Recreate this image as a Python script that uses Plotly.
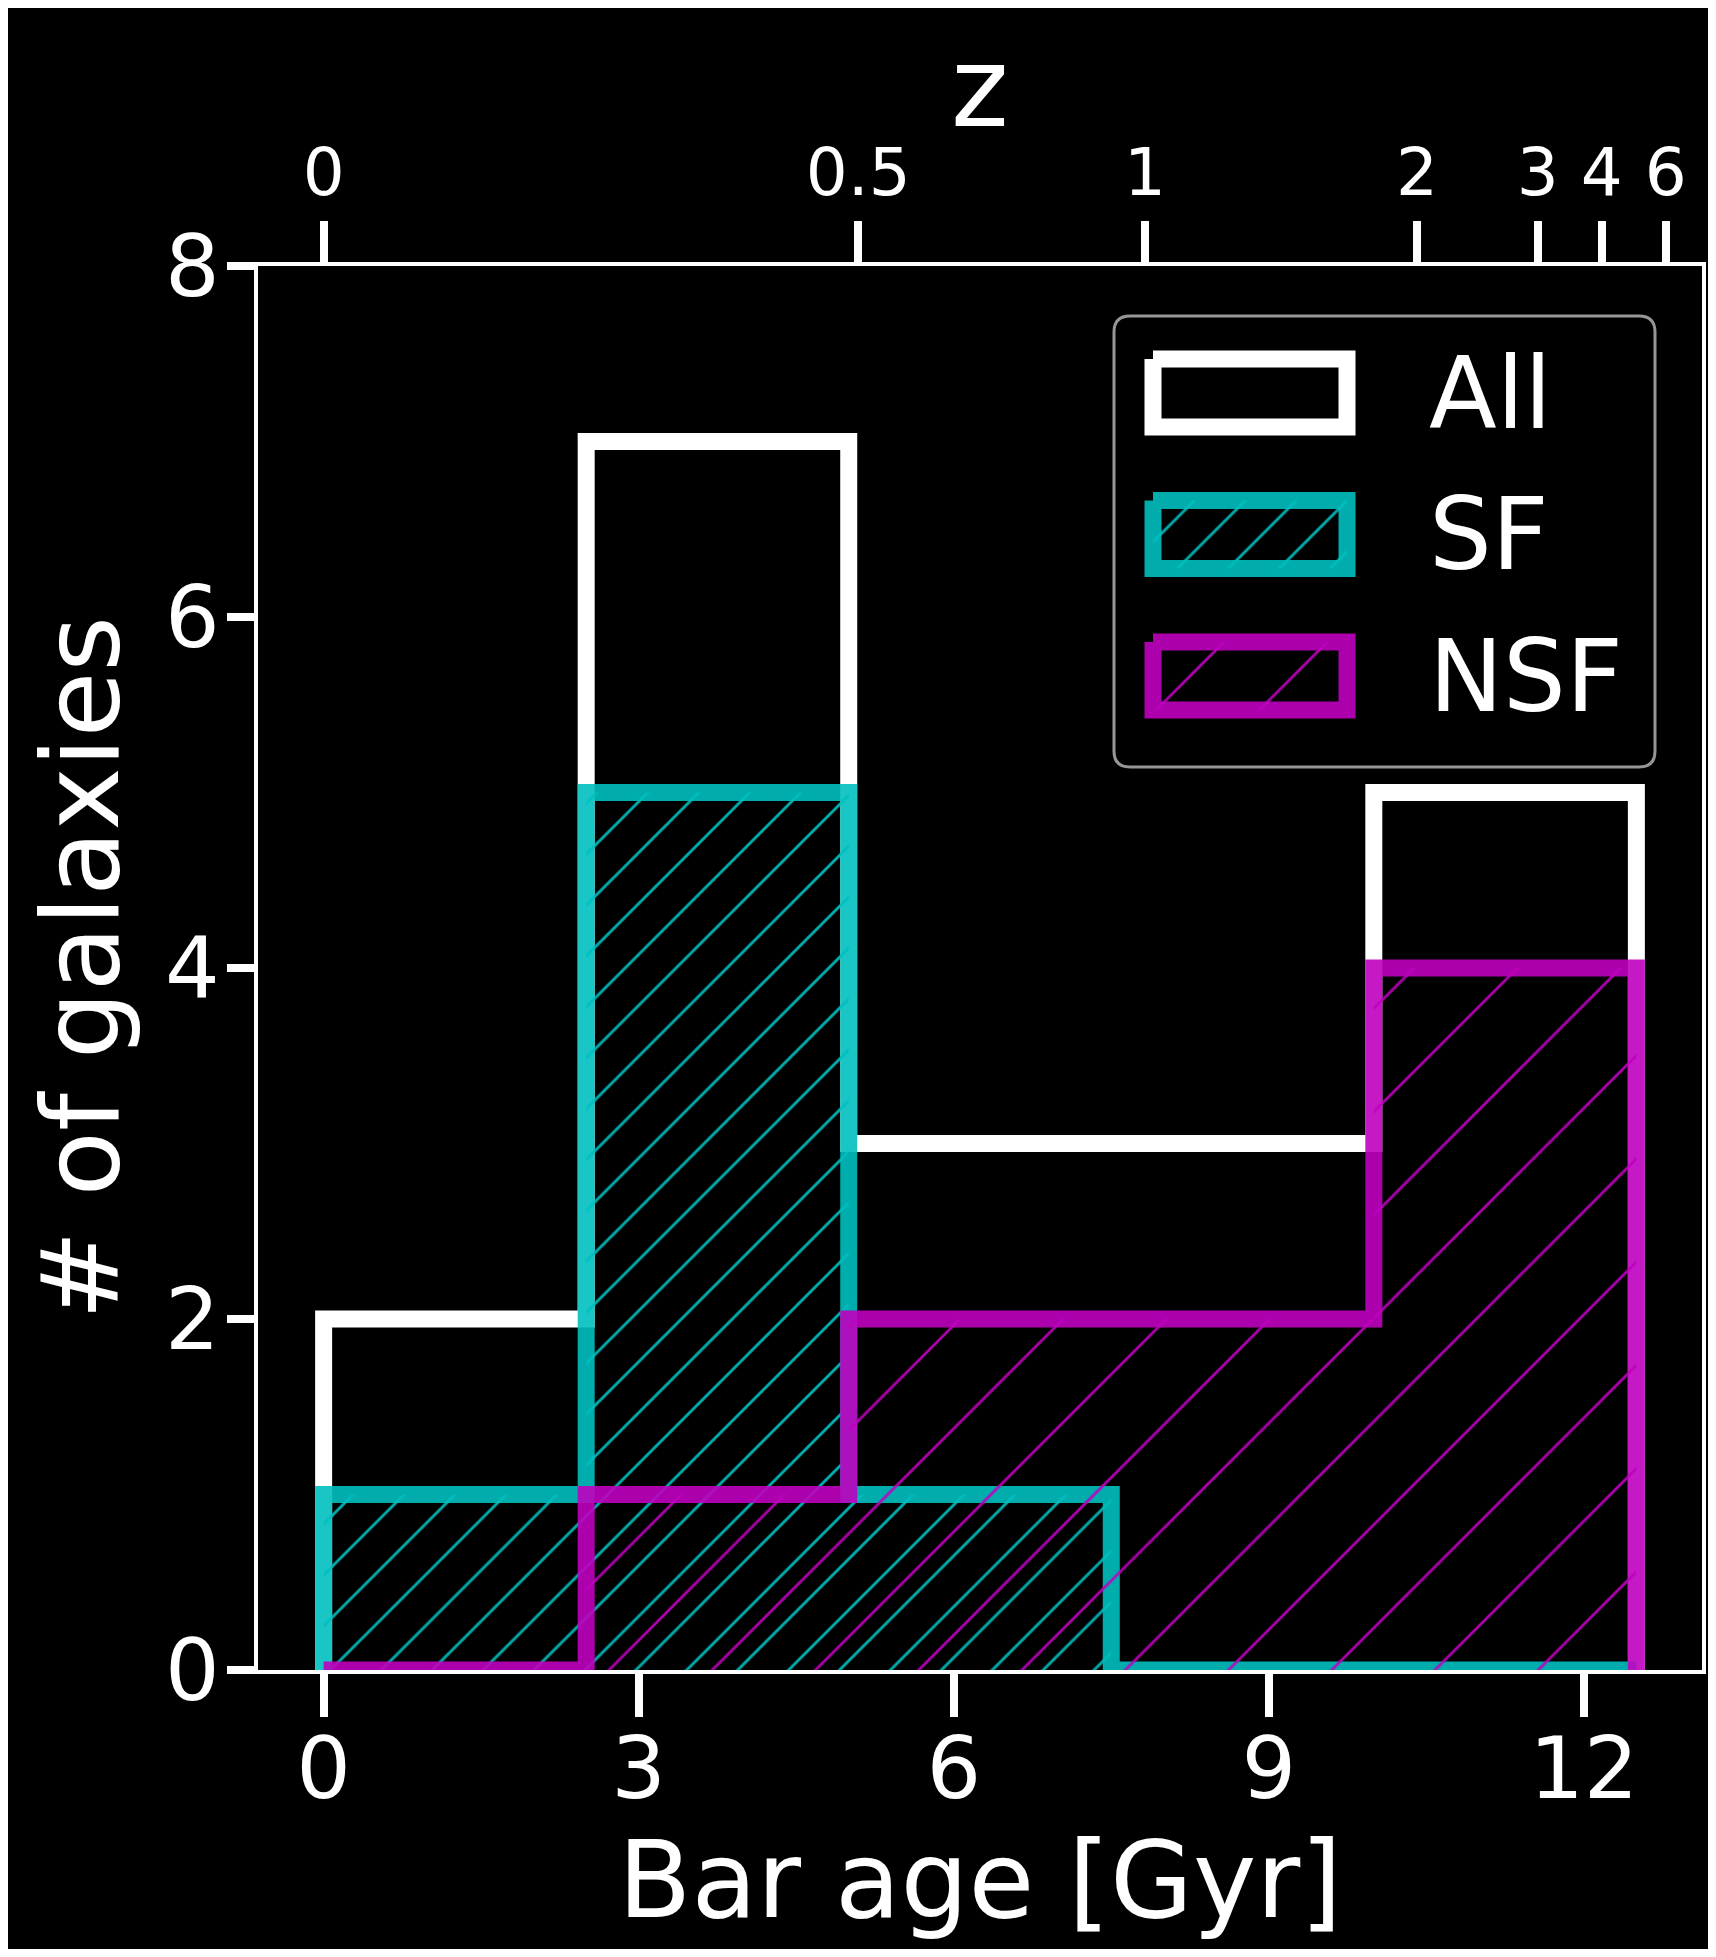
import plotly.graph_objects as go

# ---------------- data ----------------
bin_edges = [0, 2.5, 5, 7.5, 10, 12.5]
counts_all = [2, 7, 3, 3, 5]
counts_sf = [1, 5, 1, 0, 0]
counts_nsf = [0, 1, 2, 2, 4]
series_names = ["All", "SF", "NSF"]

x_tick_vals = [0, 3, 6, 9, 12]
y_tick_vals = [0, 2, 4, 6, 8]
z_tick_labels = ["0", "0.5", "1", "2", "3", "4", "6"]
z_tick_lookback_gyr = [0.0, 5.09, 7.82, 10.41, 11.56, 12.17, 12.78]

# ---------------- styling ----------------
OFF = 8                      # page offset of the figure (body margin)
W, H = 1700, 1941
PAGE_L, PAGE_R, PAGE_T, PAGE_B = 258, 1702, 266, 1670
ML, MT = PAGE_L - OFF, PAGE_T - OFF
MR, MB = W - (PAGE_R - OFF), H - (PAGE_B - OFF)
PH = PAGE_B - PAGE_T
FONT = "DejaVu Sans"
WHITE = "rgb(255,255,255)"
CYAN = "rgba(0,191,191,0.9)"
MAGENTA = "rgba(191,0,191,0.9)"
LW = 17
CLEAR = "rgba(0,0,0,0)"

styles = [
    dict(color=WHITE, pattern=None),
    dict(color=CYAN, pattern=dict(shape="/", size=36, solidity=0.08)),
    dict(color=MAGENTA, pattern=dict(shape="/", size=73, solidity=0.038)),
]
all_counts = [counts_all, counts_sf, counts_nsf]


def step_xy(edges, counts):
    xs = [edges[0]] + list(edges[:-1]) + [edges[-1], edges[-1]]
    ys = [0] + list(counts) + [counts[-1], 0]
    return xs, ys


def pattern_of(st):
    p = st["pattern"]
    return dict(shape=p["shape"], size=p["size"], solidity=p["solidity"],
                fgcolor=st["color"], bgcolor=CLEAR, fillmode="replace")


span = bin_edges[-1] - bin_edges[0]
x_range = [bin_edges[0] - 0.05 * span, bin_edges[-1] + 0.05 * span]

fig = go.Figure()

for name, counts, st in zip(series_names, all_counts, styles):
    xs, ys = step_xy(bin_edges, counts)
    kw = {}
    if st["pattern"] is not None:
        kw = dict(fill="tozeroy", fillcolor=CLEAR, fillpattern=pattern_of(st))
    fig.add_trace(go.Scatter(
        x=xs, y=ys, mode="lines", name=name,
        line=dict(color=st["color"], width=LW, shape="hv"),
        showlegend=False, hoverinfo="skip", **kw))

# invisible trace so the top redshift axis is rendered
fig.add_trace(go.Scatter(x=[z_tick_lookback_gyr[0]], y=[0], xaxis="x2", yaxis="y",
                         mode="markers", marker=dict(opacity=0), showlegend=False,
                         hoverinfo="skip"))

# ---------------- legend drawn on a pixel-space overlay axis ----------------
LEG_X0, LEG_Y0, LEG_X1, LEG_Y1, LEG_R = 1114, 316, 1655, 767, 16
ICON_X0, ICON_X1 = 1153, 1347
ICON_TOP0, ICON_H, ROW_STEP = 359, 68, 141.5
TEXT_X = 1427

for i, (name, st) in enumerate(zip(series_names, styles)):
    t = ICON_TOP0 + i * ROW_STEP
    b = t + ICON_H
    kw = dict(fill="toself", fillcolor=CLEAR)
    if st["pattern"] is not None:
        kw["fillpattern"] = pattern_of(st)
    fig.add_trace(go.Scatter(
        x=[ICON_X0, ICON_X1, ICON_X1, ICON_X0, ICON_X0],
        y=[t, t, b, b, t], xaxis="x3", yaxis="y3", mode="lines",
        line=dict(color=st["color"], width=LW), showlegend=False, hoverinfo="skip", **kw))
    fig.add_annotation(x=TEXT_X, y=(t + b) / 2, xref="x3", yref="y3", text=name,
                       showarrow=False, xanchor="left", yanchor="middle",
                       font=dict(family=FONT, size=99, color=WHITE))

x0, y0, x1, y1, r = LEG_X0, LEG_Y0, LEG_X1, LEG_Y1, LEG_R
legend_path = (f"M{x0+r},{y0} L{x1-r},{y0} Q{x1},{y0} {x1},{y0+r} L{x1},{y1-r} "
               f"Q{x1},{y1} {x1-r},{y1} L{x0+r},{y1} Q{x0},{y1} {x0},{y1-r} "
               f"L{x0},{y0+r} Q{x0},{y0} {x0+r},{y0} Z")
fig.add_shape(type="path", path=legend_path, xref="x3", yref="y3",
              line=dict(color="rgb(150,150,150)", width=3), fillcolor="black", layer="below")

# top-axis title "z" (placed as text above the redshift tick labels)
Z_TITLE_MID_Y = 88
fig.add_annotation(x=0.5, y=1 + (PAGE_T - Z_TITLE_MID_Y) / PH, xref="paper", yref="paper",
                   text="z", showarrow=False, xanchor="center", yanchor="middle",
                   font=dict(family=FONT, size=110, color=WHITE))

axis_common = dict(showgrid=False, zeroline=False, ticks="outside", tickcolor=WHITE,
                   tickwidth=8, color=WHITE)

fig.update_layout(
    width=W, height=H,
    margin=dict(l=ML, r=MR, t=MT, b=MB, autoexpand=False),
    paper_bgcolor="black", plot_bgcolor="black",
    font=dict(family=FONT, color=WHITE),
    showlegend=False,
    xaxis=dict(range=x_range, tickvals=x_tick_vals, ticklen=43, ticklabelstandoff=-22,
               showline=True, linecolor=WHITE, linewidth=4, mirror=True,
               tickfont=dict(family=FONT, size=86, color=WHITE),
               title=dict(text="Bar age [Gyr]", font=dict(family=FONT, size=107, color=WHITE),
                          standoff=13),
               **axis_common),
    yaxis=dict(range=[0, 8], tickvals=y_tick_vals, ticklen=27, ticklabelstandoff=-10,
               showline=True, linecolor=WHITE, linewidth=4, mirror=True,
               tickfont=dict(family=FONT, size=86, color=WHITE),
               title=dict(text="# of galaxies", font=dict(family=FONT, size=107, color=WHITE),
                          standoff=12),
               **axis_common),
    xaxis2=dict(range=x_range, overlaying="x", side="top", anchor="y",
                tickvals=z_tick_lookback_gyr, ticktext=z_tick_labels, ticklen=44,
                showline=False,
                tickfont=dict(family=FONT, size=66, color=WHITE),
                **axis_common),
    xaxis3=dict(range=[PAGE_L, PAGE_R], overlaying="x", anchor="y3", visible=False,
                fixedrange=True),
    yaxis3=dict(range=[PAGE_B, PAGE_T], overlaying="y", anchor="x3", visible=False,
                fixedrange=True),
)

fig.write_html("out.html")
